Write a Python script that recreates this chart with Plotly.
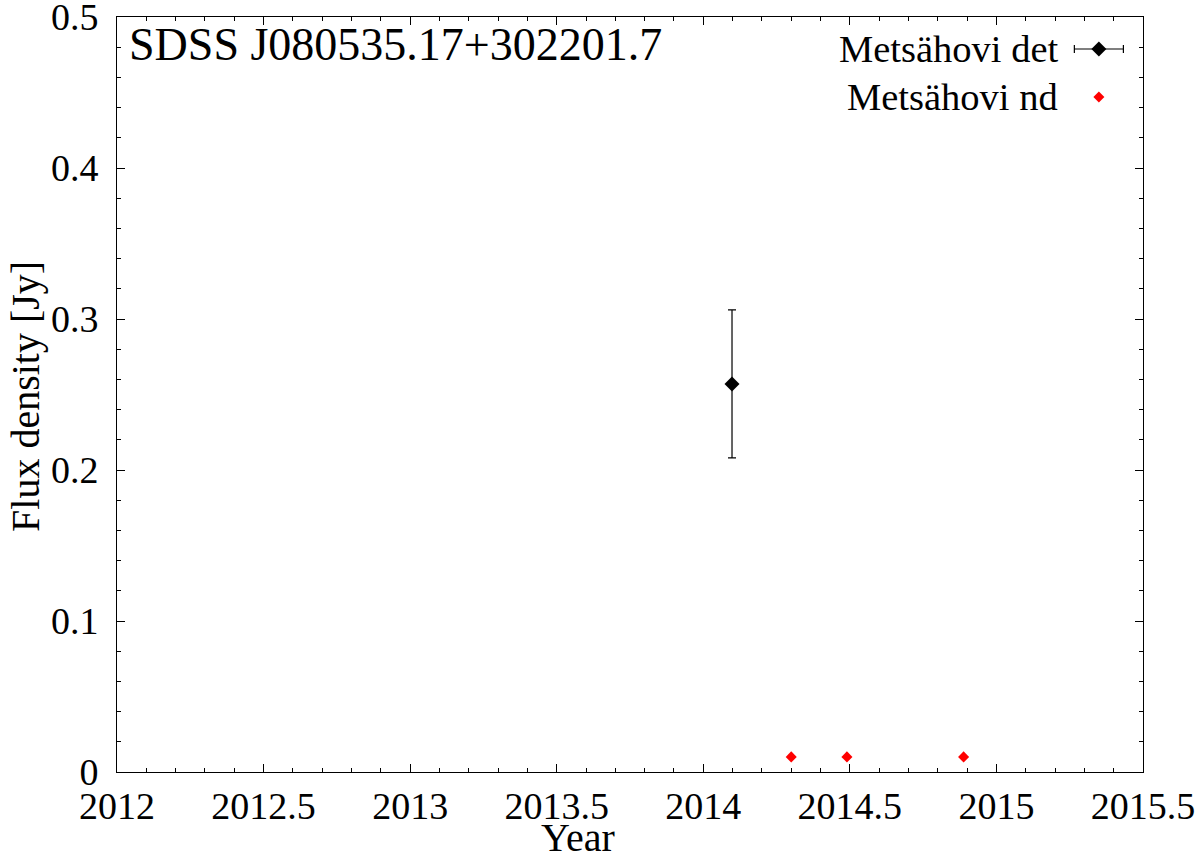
import plotly.graph_objects as go

# Metsähovi detections
det_year = [2014.098]
det_flux = [0.257]
det_err = [0.049]

# Metsähovi non-detections (upper limits)
nd_year = [2014.30, 2014.49, 2014.888]
nd_flux = [0.01, 0.01, 0.01]

# axis ticks
x_ticks = [2012, 2012.5, 2013, 2013.5, 2014, 2014.5, 2015, 2015.5]
x_tick_labels = ["2012", "2012.5", "2013", "2013.5", "2014", "2014.5", "2015", "2015.5"]
y_ticks = [0, 0.1, 0.2, 0.3, 0.4, 0.5]
y_tick_labels = ["0", "0.1", "0.2", "0.3", "0.4", "0.5"]

source_name = "SDSS J080535.17+302201.7"
FONT = "Liberation Serif"

fig = go.Figure()

fig.add_trace(
    go.Scatter(
        x=det_year,
        y=det_flux,
        mode="markers",
        marker=dict(symbol="diamond", size=11.5, color="black"),
        error_y=dict(type="data", array=det_err, visible=True,
                     color="black", thickness=1.2, width=4),
        name="Metsähovi det",
        showlegend=False,
    )
)

fig.add_trace(
    go.Scatter(
        x=nd_year,
        y=nd_flux,
        mode="markers",
        marker=dict(symbol="diamond", size=8.5, color="#ff0000"),
        name="Metsähovi nd",
        showlegend=False,
    )
)

# legend keys drawn on a hidden overlay axis (0..1), gnuplot style: text left, key right
fig.add_trace(
    go.Scatter(
        x=[0.957], y=[0.9576], xaxis="x2", yaxis="y2",
        mode="markers",
        marker=dict(symbol="diamond", size=11.5, color="black"),
        error_x=dict(type="constant", value=0.0239, color="black",
                     thickness=1.2, width=4),
        showlegend=False, hoverinfo="skip",
    )
)
fig.add_trace(
    go.Scatter(
        x=[0.957], y=[0.894], xaxis="x2", yaxis="y2",
        mode="markers",
        marker=dict(symbol="diamond", size=8.5, color="#ff0000"),
        showlegend=False, hoverinfo="skip",
    )
)

axis_common = dict(
    showline=True,
    linecolor="black",
    linewidth=1,
    mirror="ticks",
    ticks="inside",
    ticklen=8,
    tickcolor="black",
    showgrid=False,
    zeroline=False,
    tickfont=dict(family=FONT, size=38, color="black"),
    ticklabeloverflow="allow",
    automargin=False,
)

fig.update_layout(
    width=1200,
    height=852,
    margin=dict(l=117, r=57, t=17, b=80),
    paper_bgcolor="white",
    plot_bgcolor="white",
    font=dict(family=FONT, color="black"),
    xaxis=dict(
        range=[2012, 2015.5],
        tickmode="array",
        tickvals=x_ticks,
        ticktext=x_tick_labels,
        minor=dict(tickmode="linear", tick0=2012, dtick=0.1, ticks="inside",
                   ticklen=4, tickcolor="black"),
        ticklabelstandoff=0,
        **axis_common,
    ),
    yaxis=dict(
        range=[0, 0.5],
        tickmode="array",
        tickvals=y_ticks,
        ticktext=y_tick_labels,
        minor=dict(tickmode="linear", tick0=0, dtick=0.02, ticks="inside",
                   ticklen=4, tickcolor="black"),
        ticklabelstandoff=10,
        **axis_common,
    ),
    xaxis2=dict(overlaying="x", range=[0, 1], visible=False),
    yaxis2=dict(overlaying="y", range=[0, 1], visible=False),
    annotations=[
        dict(text=source_name, xref="paper", yref="paper",
             x=0.0097, y=0.963, xanchor="left", yanchor="middle",
             showarrow=False, font=dict(family=FONT, size=46)),
        dict(text="Metsähovi det", xref="paper", yref="paper",
             x=0.919, y=0.9576, xanchor="right", yanchor="middle",
             showarrow=False, font=dict(family=FONT, size=38.5)),
        dict(text="Metsähovi nd", xref="paper", yref="paper",
             x=0.919, y=0.894, xanchor="right", yanchor="middle",
             showarrow=False, font=dict(family=FONT, size=38.5)),
        dict(text="Year", xref="paper", yref="paper",
             x=0.449, y=-0.0874, xanchor="center", yanchor="middle",
             showarrow=False, font=dict(family=FONT, size=40)),
        dict(text="Flux density [Jy]", xref="paper", yref="paper",
             x=-0.0897, y=0.498, xanchor="center", yanchor="middle",
             textangle=-90, showarrow=False, font=dict(family=FONT, size=40)),
    ],
)

fig.write_html(
    "out.html",
    config={"displayModeBar": False},
    post_script="document.body.style.margin='0px';",
)
